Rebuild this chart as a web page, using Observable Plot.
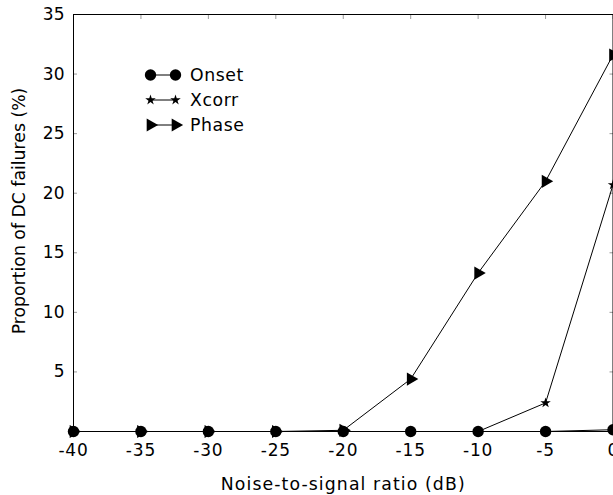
<!DOCTYPE html>
<html><head><meta charset="utf-8">
<script src="https://cdn.jsdelivr.net/npm/d3@7"></script>
<script src="https://cdn.jsdelivr.net/npm/@observablehq/plot@0.6"></script>
<style>
body{margin:0;background:#fff;font-family:"DejaVu Sans",sans-serif;}
#wrap{position:relative;width:613px;height:495px;overflow:hidden;}
#legend{position:absolute;left:0;top:0;pointer-events:none;}
</style>
</head><body><div id="wrap"></div>
<script>
const snr = [-40, -35, -30, -25, -20, -15, -10, -5, 0];
const onset = [0, 0, 0, 0, 0, 0, 0, 0, 0.15];
const xcorr = [0, 0, 0, 0, 0, 0, 0, 2.4, 20.7];
const phase = [0, 0, 0, 0, 0.1, 4.4, 13.3, 21.0, 31.6];
const seriesNames = ["Onset", "Xcorr", "Phase"];
const xTicks = [-40, -35, -30, -25, -20, -15, -10, -5, 0];
const yTicks = [5, 10, 15, 20, 25, 30, 35];
const xLabel = "Noise-to-signal ratio (dB)";
const yLabel = "Proportion of DC failures (%)";

const seriesValues = [onset, xcorr, phase];
const rows = seriesNames.flatMap((s, i) => snr.map((x, j) => ({series: s, x, y: seriesValues[i][j]})));
const sub = s => rows.filter(d => d.series === s);

const symbolOpts = {
  Onset: {symbol: "circle", r: 5.7, rotate: 0},
  Xcorr: {symbol: "star", r: 3.3, rotate: 0},
  Phase: {symbol: "triangle", r: 4.9, rotate: 90}
};

const drawOrder = ["Phase", "Xcorr", "Onset"];
const tickFs = 17;
const labelFs = 17.3;

const plot = Plot.plot({
  width: 613,
  height: 495,
  marginLeft: 73,
  marginRight: 0.5,
  marginTop: 14,
  marginBottom: 64,
  style: {fontFamily: "DejaVu Sans", fontSize: tickFs + "px", color: "black", background: "white", overflow: "visible"},
  x: {domain: [-40, 0]},
  y: {domain: [0, 35]},
  marks: [
    Plot.axisY({ticks: yTicks, tickSize: 0, tickPadding: 9, fontSize: tickFs, label: null}),
    Plot.axisX({ticks: xTicks, tickSize: 0, tickPadding: 12, fontSize: tickFs, tickFormat: d => String(d), label: null}),
    Plot.axisY({ticks: yTicks, anchor: "left", tickSize: 4, dx: 4, text: null, label: null, stroke: "#999"}),
    Plot.axisY({ticks: yTicks, anchor: "right", tickSize: 4, dx: -4, text: null, label: null, stroke: "#999"}),
    Plot.axisX({ticks: xTicks, anchor: "top", tickSize: 4, dy: 4, text: null, label: null, stroke: "#999"}),
    Plot.text([xLabel], {text: d => d, frameAnchor: "bottom", dy: 52.7, fontSize: labelFs, lineAnchor: "middle", textAnchor: "middle", fill: "black"}),
    Plot.text([yLabel], {text: d => d, frameAnchor: "left", dx: -53.7, dy: -12, rotate: -90, fontSize: labelFs, lineAnchor: "middle", textAnchor: "middle", fill: "black"}),
    ...drawOrder.map(s => Plot.line(sub(s), {x: "x", y: "y", stroke: "black", strokeWidth: 1})),
    ...drawOrder.map(s => Plot.dot(sub(s), {x: "x", y: "y", fill: "black", stroke: "none", symbol: symbolOpts[s].symbol, r: symbolOpts[s].r, rotate: symbolOpts[s].rotate})),
    Plot.frame({stroke: "black", strokeWidth: 1})
  ]
});
// slight letter spacing to match the reference's wider label glyphs
d3.select(plot).selectAll("text").filter(function() { return this.textContent === xLabel; })
  .attr("letter-spacing", "1.1px");
d3.select(plot).selectAll("text").filter(function() { return /^-\d+$/.test(this.textContent); })
  .attr("letter-spacing", "0.8px");

const wrap = document.getElementById("wrap");
wrap.appendChild(plot);

// legend overlay
const legendSvg = d3.create("svg").attr("id", "legend").attr("width", 613).attr("height", 495);
const lx0 = 150.5, lx1 = 175.5, ltx = 190, ly0 = 75, lstep = 25;
const symMap = {circle: d3.symbolCircle, star: d3.symbolStar, triangle: d3.symbolTriangle};
seriesNames.forEach((s, i) => {
  const y = ly0 + i * lstep;
  const g = legendSvg.append("g");
  g.append("line").attr("x1", lx0).attr("x2", lx1).attr("y1", y).attr("y2", y).attr("stroke", "black");
  const o = symbolOpts[s];
  const path = d3.symbol(symMap[o.symbol], o.r * o.r * Math.PI)();
  [lx0, lx1].forEach(x => g.append("path").attr("d", path).attr("fill", "black")
    .attr("transform", `translate(${x},${y}) rotate(${o.rotate})`));
  g.append("text").attr("x", ltx).attr("y", y).attr("dy", "0.36em")
    .attr("font-family", "DejaVu Sans").attr("font-size", labelFs).attr("letter-spacing", "0.6px").text(s);
});
wrap.appendChild(legendSvg.node());
</script>
</body></html>
